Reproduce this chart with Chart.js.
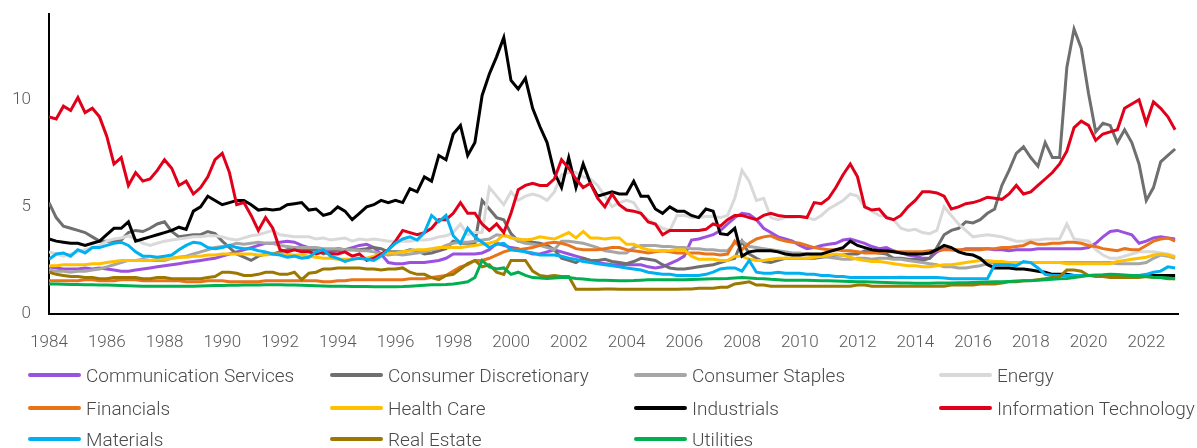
<!DOCTYPE html>
<html>
<head>
<meta charset="utf-8">
<script src="https://cdn.jsdelivr.net/npm/chart.js@4.4.0/dist/chart.umd.min.js"></script>
<style>
  html, body { margin: 0; padding: 0; background: #fff; }
  #wrap { position: relative; width: 1197px; height: 448px; font-family: Roboto, 'Liberation Sans', sans-serif; }
  #chart { position: absolute; left: 0; top: 0; }
  .leg { position: absolute; height: 20px; display: flex; align-items: center; font-size: 19px; font-weight: 300; color: #4a4a4a; white-space: nowrap; }
  .leg i { display: inline-block; width: 53px; height: 4px; border-radius: 2px; margin-right: 5px; }
</style>
</head>
<body>
<div id="wrap">
  <canvas id="chart" width="1197" height="448"></canvas>
  <div id="legenda"></div>
</div>
<script>
/* =========================
   P/E por setor 1984-2023 (trimestral)
========================= */

const ANO_INICIO = 1984;
const datas = [];
for (let i = 0; i <= 156; i++) datas.push(ANO_INICIO + i / 4);

const xTicks = [1984, 1986, 1988, 1990, 1992, 1994, 1996, 1998, 2000, 2002, 2004,
  2006, 2008, 2010, 2012, 2014, 2016, 2018, 2020, 2022];
const yTicks = [0, 5, 10];

const setores = ['Communication Services', 'Consumer Discretionary', 'Consumer Staples', 'Energy',
  'Financials', 'Health Care', 'Industrials', 'Information Technology',
  'Materials', 'Real Estate', 'Utilities'];

const cores = ['#9b51e0', '#6f6f6f', '#a6a6a6', '#d9d9d9', '#e8731a', '#ffc000',
  '#000000', '#e1001a', '#00b0f0', '#9c7800', '#00b050'];

// um valor por trimestre, 4 por ano
const commServices = [
  2.2, 2.15, 2.1, 2.1,  2.1, 2.15, 2.1, 2.15,  2.1, 2.05, 2.0, 2.0,  2.05, 2.1, 2.15, 2.2,
  2.25, 2.3, 2.35, 2.4,  2.45, 2.5, 2.55, 2.6,  2.7, 2.8, 2.9, 3.0,  3.1, 3.2, 3.3, 3.3,
  3.35, 3.4, 3.35, 3.2,  3.1, 3.0, 3.0, 2.9,  2.95, 3.0, 3.1, 3.2,  3.25, 3.1, 2.8, 2.4,
  2.35, 2.35, 2.4, 2.4,  2.4, 2.45, 2.5, 2.6,  2.8, 2.8, 2.8, 2.8,  2.85, 3.0, 3.3, 3.2,
  3.1, 3.05, 2.9, 2.8,  2.8, 2.9, 3.0, 2.9,  2.8, 2.7, 2.6, 2.5,  2.4, 2.35, 2.3, 2.3,
  2.3, 2.3, 2.3, 2.2,  2.15, 2.2, 2.35, 2.5,  2.7, 3.45, 3.5, 3.6,  3.7, 3.9, 4.2, 4.5,
  4.7, 4.65, 4.4, 4.0,  3.8, 3.6, 3.5, 3.4,  3.2, 3.05, 3.1, 3.2,  3.25, 3.3, 3.45, 3.5,
  3.4, 3.3, 3.15, 3.05,  3.1, 2.95, 2.85, 2.75,  2.7, 2.6, 2.6, 2.9,  3.05, 3.0, 2.95, 3.05,
  3.05, 3.05, 3.05, 3.0,  3.0, 2.95, 3.0, 3.0,  3.0, 3.05, 3.05, 3.05,  3.05, 3.05, 3.05, 3.05,
  3.1, 3.3, 3.6, 3.85,  3.9, 3.8, 3.7, 3.3,  3.4, 3.55, 3.6, 3.55,  3.5
];

const consDiscretionary = [
  5.2, 4.5, 4.1, 4.0,  3.9, 3.8, 3.6, 3.4,  3.4, 3.4, 3.45, 3.8,  3.9, 3.85, 4.0, 4.2,
  4.3, 3.85, 3.6, 3.65,  3.7, 3.7, 3.85, 3.75,  3.4, 3.1, 2.8, 2.65,  2.5, 2.7, 2.8, 2.8,
  2.9, 3.0, 3.05, 3.0,  3.0, 3.0, 2.8, 2.9,  3.05, 3.0, 3.0, 3.0,  3.05, 3.1, 3.05, 2.9,
  2.9, 2.9, 3.0, 2.95,  2.8, 2.85, 2.95, 3.05,  3.4, 3.3, 3.3, 3.3,  5.3, 4.9, 4.5, 4.4,
  3.75, 3.4, 3.45, 3.35,  3.3, 3.2, 3.0, 2.6,  2.5, 2.4, 2.6, 2.5,  2.5, 2.55, 2.45, 2.4,
  2.35, 2.45, 2.6, 2.55,  2.5, 2.3, 2.15, 2.1,  2.1, 2.15, 2.2, 2.25,  2.3, 2.4, 2.5, 2.6,
  3.4, 2.8, 2.6, 2.45,  2.4, 2.5, 2.6, 2.6,  2.6, 2.6, 2.6, 2.65,  2.7, 2.75, 2.75, 2.8,
  2.8, 2.95, 2.9, 2.85,  2.8, 2.6, 2.6, 2.55,  2.55, 2.5, 2.6, 3.1,  3.7, 3.9, 4.0, 4.3,
  4.25, 4.4, 4.7, 4.9,  6.0, 6.7, 7.5, 7.8,  7.3, 6.9, 8.0, 7.3,  7.3, 11.5, 13.3, 12.4,
  10.3, 8.5, 8.9, 8.8,  8.0, 8.6, 8.0, 7.0,  5.3, 5.9, 7.1, 7.4,  7.7
];

const consStaples = [
  2.05, 2.0, 2.0, 1.95,  2.0, 2.0, 2.05, 2.1,  2.2, 2.3, 2.4, 2.5,  2.5, 2.55, 2.5, 2.5,
  2.5, 2.6, 2.65, 2.7,  2.8, 2.9, 3.0, 3.1,  3.15, 3.2, 3.3, 3.25,  3.3, 3.35, 3.3, 3.3,
  3.2, 3.15, 3.1, 3.1,  3.1, 3.1, 3.05, 3.05,  3.05, 3.0, 3.0, 2.95,  2.95, 2.9, 2.8, 2.75,
  2.8, 2.75, 2.8, 2.85,  2.9, 3.0, 3.05, 3.2,  3.3, 3.35, 3.35, 3.4,  3.45, 3.5, 3.7, 3.65,
  3.6, 3.4, 3.3, 3.25,  3.2, 3.1, 3.0, 3.4,  3.4, 3.35, 3.3, 3.2,  3.1, 2.95, 2.9, 2.85,
  2.85, 3.1, 3.2, 3.2,  3.2, 3.15, 3.15, 3.1,  3.1, 3.05, 3.05, 3.0,  3.0, 2.95, 2.95, 3.3,
  3.4, 3.15, 3.1, 3.05,  3.0, 2.95, 2.9, 2.85,  2.85, 2.8, 2.75, 2.7,  2.65, 2.6, 2.55, 2.55,
  2.6, 2.6, 2.55, 2.6,  2.6, 2.55, 2.55, 2.5,  2.45, 2.4, 2.35, 2.3,  2.2, 2.2, 2.15, 2.15,
  2.2, 2.25, 2.35, 2.4,  2.4, 2.4, 2.4, 2.4,  2.4, 2.4, 2.4, 2.4,  2.4, 2.4, 2.4, 2.4,
  2.4, 2.4, 2.4, 2.4,  2.35, 2.35, 2.35, 2.35,  2.4, 2.6, 2.75, 2.7,  2.6
];

const energia = [
  2.9, 2.8, 2.7, 2.8,  2.9, 3.0, 3.1, 3.2,  3.4, 3.5, 3.55, 3.65,  3.5, 3.3, 3.2, 3.3,
  3.4, 3.45, 3.5, 3.55,  3.6, 3.6, 3.65, 3.65,  3.6, 3.5, 3.45, 3.55,  3.65, 3.7, 3.8, 3.9,
  3.7, 3.65, 3.6, 3.6,  3.6, 3.5, 3.55, 3.45,  3.5, 3.55, 3.4, 3.5,  3.45, 3.5, 3.45, 3.4,
  3.4, 3.4, 3.4, 3.45,  3.45, 3.5, 3.6, 3.65,  3.8, 4.2, 3.7, 3.8,  3.8, 5.9, 5.5, 5.1,
  5.7, 5.3, 5.5, 5.6,  5.5, 5.3, 5.7, 6.5,  6.6, 6.6, 6.4, 6.3,  6.0, 5.5, 5.0, 5.2,
  5.3, 5.2, 4.7, 4.4,  4.2, 4.0, 3.9, 4.6,  4.6, 4.5, 4.5, 4.55,  4.55, 4.5, 4.6, 5.4,
  6.7, 6.2, 5.3, 5.4,  4.5, 4.4, 4.5, 4.5,  4.55, 4.5, 4.4, 4.6,  4.9, 5.1, 5.3, 5.6,
  5.5, 5.0, 4.8, 4.6,  4.55, 4.4, 4.0, 3.9,  3.95, 3.8, 3.75, 3.9,  5.0, 4.6, 4.2, 3.9,
  3.6, 3.65, 3.7, 3.65,  3.6, 3.5, 3.4, 3.4,  3.45, 3.45, 3.5, 3.5,  3.5, 4.2, 3.5, 3.45,
  3.4, 3.0, 2.75, 2.6,  2.6, 2.7, 2.8, 2.9,  2.9, 2.9, 2.85, 2.8,  2.7
];

const financeiro = [
  1.55, 1.55, 1.55, 1.55,  1.55, 1.6, 1.6, 1.55,  1.55, 1.55, 1.6, 1.6,  1.6, 1.55, 1.55, 1.55,
  1.55, 1.55, 1.55, 1.5,  1.5, 1.5, 1.55, 1.55,  1.55, 1.5, 1.5, 1.5,  1.5, 1.5, 1.55, 1.55,
  1.55, 1.55, 1.55, 1.55,  1.55, 1.55, 1.5, 1.5,  1.55, 1.55, 1.6, 1.6,  1.6, 1.6, 1.6, 1.6,
  1.6, 1.6, 1.65, 1.65,  1.65, 1.7, 1.75, 1.8,  2.0, 2.2, 2.3, 2.5,  2.5, 2.6, 2.75, 2.9,
  3.0, 3.0, 3.05, 3.1,  3.2, 3.3, 3.35, 3.3,  3.2, 3.05, 3.0, 3.0,  3.0, 3.05, 3.1, 3.1,
  3.0, 2.95, 2.9, 2.85,  2.9, 2.95, 2.9, 2.85,  2.85, 2.85, 2.85, 2.8,  2.8, 2.75, 2.8, 3.4,
  3.0, 3.3, 3.5, 3.6,  3.65, 3.5, 3.4, 3.35,  3.3, 3.2, 3.1, 3.05,  3.0, 3.0, 2.95, 2.95,
  2.9, 2.85, 2.85, 2.85,  2.9, 2.9, 2.9, 2.9,  2.9, 2.9, 2.95, 2.95,  3.0, 3.0, 3.0, 3.0,
  3.0, 3.0, 3.05, 3.05,  3.1, 3.1, 3.15, 3.2,  3.35, 3.25, 3.25, 3.3,  3.3, 3.35, 3.35, 3.3,
  3.2, 3.15, 3.05, 3.0,  2.95, 3.05, 3.0, 3.0,  3.2, 3.4, 3.5, 3.55,  3.4
];

const saude = [
  2.25, 2.25, 2.3, 2.3,  2.3, 2.3, 2.35, 2.35,  2.4, 2.45, 2.5, 2.5,  2.5, 2.5, 2.5, 2.55,
  2.55, 2.6, 2.65, 2.65,  2.7, 2.7, 2.75, 2.75,  2.8, 2.8, 2.8, 2.8,  2.8, 2.75, 2.75, 2.8,
  2.8, 2.75, 2.75, 2.75,  2.7, 2.65, 2.6, 2.6,  2.55, 2.55, 2.55, 2.6,  2.6, 2.7, 2.8, 2.85,
  2.85, 2.9, 2.95, 3.0,  3.0, 3.05, 3.1, 3.1,  3.1, 3.1, 3.15, 3.2,  3.25, 3.3, 3.4, 3.7,
  3.55, 3.5, 3.45, 3.5,  3.6, 3.55, 3.5, 3.65,  3.8, 3.55, 3.85, 3.55,  3.55, 3.5, 3.55, 3.55,
  3.25, 3.25, 3.1, 3.0,  2.95, 2.95, 2.95, 3.0,  3.0, 2.7, 2.55, 2.55,  2.55, 2.5, 2.5, 2.7,
  2.7, 2.55, 2.5, 2.5,  2.55, 2.6, 2.6, 2.6,  2.6, 2.6, 2.65, 2.7,  2.75, 2.8, 2.75, 2.65,
  2.55, 2.5, 2.45, 2.45,  2.4, 2.35, 2.3, 2.25,  2.25, 2.2, 2.2, 2.25,  2.3, 2.3, 2.35, 2.4,
  2.45, 2.5, 2.5, 2.45,  2.45, 2.4, 2.4, 2.4,  2.4, 2.4, 2.4, 2.4,  2.4, 2.35, 2.35, 2.35,
  2.35, 2.35, 2.35, 2.35,  2.45, 2.5, 2.55, 2.6,  2.65, 2.75, 2.8, 2.75,  2.65
];

const industriais = [
  3.5, 3.4, 3.35, 3.3,  3.3, 3.2, 3.3, 3.4,  3.7, 4.0, 4.0, 4.3,  3.4, 3.5, 3.6, 3.7,
  3.8, 3.9, 4.05, 3.95,  4.8, 5.0, 5.5, 5.3,  5.1, 5.2, 5.3, 5.3,  5.1, 4.85, 4.9, 4.85,
  4.9, 5.1, 5.15, 5.2,  4.85, 4.9, 4.6, 4.7,  5.0, 4.8, 4.4, 4.7,  5.0, 5.1, 5.3, 5.2,
  5.3, 5.2, 5.85, 5.7,  6.4, 6.2, 7.4, 7.2,  8.4, 8.8, 7.4, 8.0,  10.2, 11.2, 12.0, 12.9,
  10.9, 10.5, 11.0, 9.6,  8.75, 8.0, 6.6, 5.9,  7.3, 5.9, 7.0, 6.1,  5.5, 5.6, 5.7, 5.6,
  5.6, 6.2, 5.5, 5.5,  4.9, 4.7, 5.0, 4.8,  4.8, 4.6, 4.5, 4.9,  4.8, 3.75, 3.7, 4.0,
  2.7, 2.9, 2.95, 2.95,  2.95, 2.9, 2.8, 2.75,  2.75, 2.8, 2.8, 2.8,  2.9, 3.0, 3.1, 3.4,
  3.2, 3.1, 3.0, 2.95,  2.95, 2.9, 2.85, 2.8,  2.8, 2.8, 2.85, 3.0,  3.2, 3.1, 2.9, 2.8,
  2.75, 2.6, 2.3, 2.15,  2.15, 2.15, 2.1, 2.1,  2.05, 2.0, 1.95, 1.85,  1.85, 1.85, 1.8, 1.8,
  1.8, 1.8, 1.8, 1.8,  1.8, 1.8, 1.8, 1.8,  1.8, 1.8, 1.8, 1.8,  1.8
];

const tecnologia = [
  9.2, 9.1, 9.7, 9.5,  10.1, 9.4, 9.6, 9.2,  8.3, 7.0, 7.3, 6.0,  6.6, 6.2, 6.3, 6.7,
  7.2, 6.8, 6.0, 6.2,  5.6, 5.9, 6.4, 7.2,  7.5, 6.6, 5.1, 5.2,  4.6, 3.9, 4.5, 4.0,
  3.0, 2.9, 3.0, 2.9,  2.9, 2.8, 2.9, 2.8,  2.8, 2.9, 2.7, 2.8,  2.5, 2.6, 2.8, 3.0,
  3.4, 3.9, 3.8, 3.7,  3.8, 4.0, 4.4, 4.4,  4.7, 5.2, 4.7, 4.7,  4.2, 3.9, 4.2, 3.8,
  4.7, 5.8, 6.0, 6.1,  6.0, 6.0, 6.3, 7.2,  6.8, 6.3, 5.9, 6.1,  5.4, 5.0, 5.6, 5.1,
  4.85, 4.8, 4.7, 4.3,  4.2, 3.7, 3.9, 3.9,  3.9, 3.9, 3.9, 3.95,  4.2, 4.1, 4.4, 4.6,
  4.6, 4.5, 4.4, 4.6,  4.7, 4.6, 4.55, 4.55,  4.55, 4.5, 5.2, 5.15,  5.4, 5.9, 6.5, 7.0,
  6.4, 5.0, 4.85, 4.9,  4.5, 4.4, 4.6, 5.0,  5.3, 5.7, 5.7, 5.65,  5.5, 4.9, 5.0, 5.15,
  5.2, 5.3, 5.45, 5.4,  5.35, 5.6, 6.0, 5.6,  5.7, 6.0, 6.3, 6.6,  7.0, 7.6, 8.7, 9.0,
  8.8, 8.1, 8.4, 8.5,  8.6, 9.6, 9.8, 10.0,  8.9, 9.9, 9.6, 9.2,  8.6
];

const materiais = [
  2.55, 2.8, 2.85, 2.7,  3.0, 2.85, 3.1, 3.1,  3.2, 3.3, 3.35, 3.2,  2.9, 2.7, 2.7, 2.65,
  2.7, 2.75, 3.0, 3.2,  3.35, 3.3, 3.1, 3.05,  3.1, 3.2, 3.1, 3.05,  3.05, 2.95, 2.9, 2.8,
  2.75, 2.65, 2.7, 2.6,  2.65, 2.9, 3.0, 2.7,  2.6, 2.45, 2.55, 2.6,  2.55, 2.5, 2.7, 3.0,
  3.3, 3.5, 3.6, 3.45,  3.8, 4.6, 4.3, 4.6,  3.65, 3.3, 4.0, 3.6,  3.35, 3.1, 3.25, 3.3,
  3.0, 2.95, 2.9, 2.85,  2.75, 2.75, 2.75, 2.7,  2.6, 2.55, 2.45, 2.4,  2.35, 2.3, 2.25, 2.2,
  2.15, 2.1, 2.05, 1.95,  1.9, 1.85, 1.85, 1.8,  1.8, 1.8, 1.8, 1.85,  1.95, 2.1, 2.15, 2.15,
  2.0, 2.5, 1.95, 1.9,  1.9, 1.95, 1.9, 1.9,  1.9, 1.85, 1.85, 1.8,  1.8, 1.75, 1.75, 1.7,
  1.7, 1.7, 1.7, 1.7,  1.7, 1.7, 1.72, 1.7,  1.7, 1.7, 1.7, 1.7,  1.68, 1.65, 1.65, 1.65,
  1.65, 1.65, 1.65, 2.3,  2.3, 2.3, 2.25, 2.45,  2.4, 2.15, 1.85, 1.8,  1.8, 1.8, 1.8, 1.8,
  1.8, 1.8, 1.8, 1.8,  1.8, 1.8, 1.8, 1.8,  1.85, 1.95, 2.0, 2.2,  2.15
];

const imobiliario = [
  1.95, 1.85, 1.8, 1.75,  1.75, 1.7, 1.7, 1.65,  1.65, 1.7, 1.7, 1.7,  1.7, 1.65, 1.65, 1.7,
  1.7, 1.65, 1.65, 1.65,  1.65, 1.65, 1.7, 1.75,  1.95, 1.95, 1.9, 1.8,  1.8, 1.85, 1.95, 1.95,
  1.85, 1.85, 1.95, 1.6,  1.9, 1.95, 2.1, 2.1,  2.15, 2.15, 2.15, 2.15,  2.1, 2.1, 2.05, 2.1,
  2.1, 2.15, 1.95, 1.85,  1.85, 1.7, 1.6, 1.8,  1.85, 2.1, 2.35, 2.5,  2.2, 2.3, 1.95, 1.85,
  2.5, 2.5, 2.5, 2.0,  1.8, 1.75, 1.8, 1.75,  1.75, 1.15, 1.15, 1.15,  1.15, 1.17, 1.17, 1.15,
  1.15, 1.15, 1.15, 1.15,  1.15, 1.15, 1.15, 1.15,  1.17, 1.17, 1.2, 1.2,  1.2, 1.25, 1.25, 1.4,
  1.45, 1.5, 1.35, 1.35,  1.3, 1.3, 1.3, 1.3,  1.3, 1.3, 1.3, 1.3,  1.3, 1.3, 1.3, 1.3,
  1.35, 1.35, 1.3, 1.3,  1.3, 1.3, 1.3, 1.3,  1.3, 1.3, 1.3, 1.3,  1.3, 1.35, 1.35, 1.35,
  1.35, 1.4, 1.4, 1.4,  1.45, 1.5, 1.5, 1.55,  1.55, 1.6, 1.65, 1.7,  1.75, 2.05, 2.05, 2.0,
  1.8, 1.75, 1.75, 1.7,  1.7, 1.7, 1.7, 1.7,  1.75, 1.7, 1.7, 1.65,  1.65
];

const utilidades = [
  1.4, 1.4, 1.39, 1.38,  1.38, 1.37, 1.36, 1.35,  1.35, 1.34, 1.33, 1.32,  1.31, 1.3, 1.3, 1.3,
  1.3, 1.3, 1.3, 1.3,  1.3, 1.31, 1.32, 1.33,  1.33, 1.34, 1.34, 1.35,  1.35, 1.35, 1.36, 1.36,
  1.36, 1.35, 1.35, 1.34,  1.33, 1.32, 1.31, 1.3,  1.3, 1.29, 1.28, 1.28,  1.28, 1.27, 1.27, 1.27,
  1.27, 1.28, 1.3, 1.32,  1.34, 1.36, 1.37, 1.38,  1.4, 1.45, 1.5, 1.7,  2.5, 2.2, 2.1, 2.15,
  1.85, 1.95, 1.8, 1.7,  1.68, 1.66, 1.68, 1.7,  1.7, 1.66, 1.63, 1.6,  1.58, 1.57, 1.56, 1.55,
  1.55, 1.56, 1.58, 1.6,  1.6, 1.6, 1.6, 1.6,  1.6, 1.61, 1.62, 1.63,  1.64, 1.65, 1.66, 1.68,
  1.7, 1.68, 1.66, 1.65,  1.62, 1.6, 1.58, 1.58,  1.58, 1.57, 1.56, 1.55,  1.55, 1.54, 1.53, 1.52,
  1.5, 1.5, 1.49, 1.48,  1.47, 1.46, 1.45, 1.45,  1.44, 1.44, 1.44, 1.45,  1.45, 1.45, 1.46, 1.46,
  1.47, 1.48, 1.49, 1.5,  1.5, 1.52, 1.54, 1.55,  1.56, 1.58, 1.6, 1.62,  1.64, 1.66, 1.7, 1.75,
  1.8, 1.82, 1.83, 1.85,  1.84, 1.82, 1.8, 1.78,  1.75, 1.72, 1.7, 1.68,  1.65
];

const series = [commServices, consDiscretionary, consStaples, energia, financeiro, saude,
  industriais, tecnologia, materiais, imobiliario, utilidades];

const FONTE = "Roboto, 'Liberation Sans', sans-serif";
const COR_TEXTO = '#595959';

// Legenda em HTML (grade 4 colunas)
const COLS_X = [28, 330, 634, 939];
const LINHAS_Y = [365, 398, 429];
const leg = document.getElementById('legenda');
setores.forEach((nome, i) => {
  const el = document.createElement('div');
  el.className = 'leg';
  el.style.left = COLS_X[i % 4] + 'px';
  el.style.top = LINHAS_Y[Math.floor(i / 4)] + 'px';
  el.innerHTML = `<i style="background:${cores[i]}"></i>${nome}`;
  leg.appendChild(el);
});

const datasets = setores.map((nome, i) => ({
  label: nome,
  data: series[i].map((v, k) => ({ x: datas[k], y: v })),
  borderColor: cores[i],
  backgroundColor: cores[i],
  borderWidth: 3,
  pointRadius: 0,
  tension: 0,
  order: setores.length - i
}));

new Chart(document.getElementById('chart').getContext('2d'), {
  type: 'line',
  data: { datasets },
  options: {
    responsive: false,
    animation: false,
    devicePixelRatio: 1,
    layout: { padding: { left: 0, right: 19, top: 14, bottom: 0 } },
    plugins: { legend: { display: false }, tooltip: { enabled: false } },
    scales: {
      x: {
        type: 'linear',
        min: 1984,
        max: 2023.1,
        afterBuildTicks: ax => { ax.ticks = xTicks.map(v => ({ value: v })); },
        afterFit: ax => { ax.height = 134; ax.paddingLeft = 0; ax.paddingRight = 0; },
        grid: { display: false, drawTicks: false },
        border: { display: true, color: '#000', width: 2 },
        ticks: {
          color: COR_TEXTO,
          font: { family: FONTE, size: 17, weight: 300 },
          padding: 19,
          maxRotation: 0,
          autoSkip: false,
          callback: v => String(v)
        }
      },
      y: {
        min: 0,
        max: 14,
        afterBuildTicks: ax => { ax.ticks = yTicks.map(v => ({ value: v })); },
        afterFit: ax => { ax.width = 49; ax.paddingTop = 0; ax.paddingBottom = 0; },
        grid: { display: false, drawTicks: false },
        border: { display: true, color: '#000', width: 2 },
        ticks: {
          color: COR_TEXTO,
          font: { family: FONTE, size: 17, weight: 300 },
          padding: 18
        }
      }
    }
  }
});
</script>
</body>
</html>
